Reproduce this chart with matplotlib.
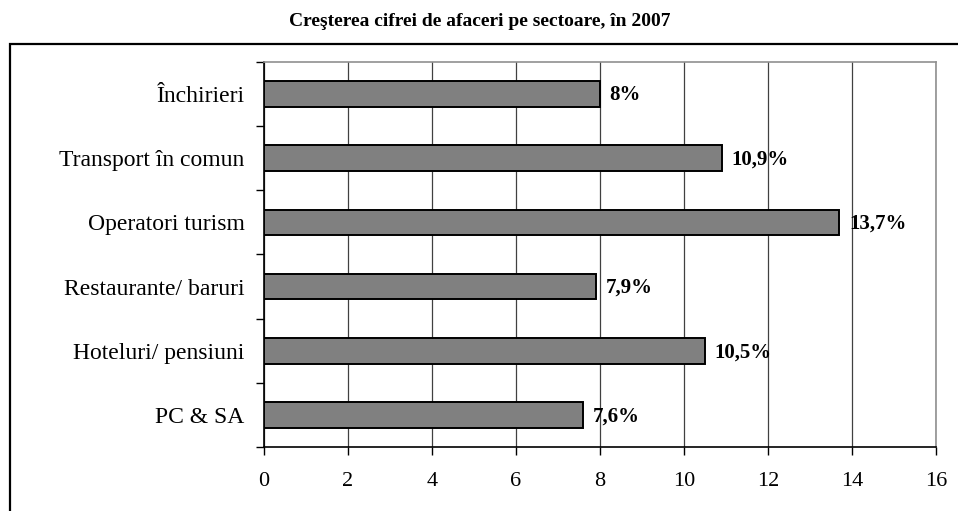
import matplotlib.pyplot as plt
from matplotlib.patches import Rectangle

categories = ["PC & SA", "Hoteluri/ pensiuni", "Restaurante/ baruri",
              "Operatori turism", "Transport în comun", "Închirieri"]
values = [7.6, 10.5, 7.9, 13.7, 10.9, 8.0]
value_labels = ["7,6%", "10,5%", "7,9%", "13,7%", "10,9%", "8%"]
x_ticks = [0, 2, 4, 6, 8, 10, 12, 14, 16]
title = "Creşterea cifrei de afaceri pe sectoare, în 2007"

plt.rcParams['font.family'] = ['Liberation Serif', 'DejaVu Serif']

W, H = 958, 511
fig = plt.figure(figsize=(W / 100, H / 100), dpi=100)
ax = fig.add_axes([264 / W, 1 - 447 / H, (936 - 264) / W, (447 - 62) / H])

# outer chart-area border
fig.patches.append(Rectangle((10 / W, -0.05), 1.1, 1 - 44 / H + 0.05,
                             transform=fig.transFigure, fill=False,
                             edgecolor='black', linewidth=1.6))

y = list(range(len(categories)))
ax.barh(y, values, height=0.4, color='#808080', edgecolor='black',
        linewidth=1.4, zorder=3)

for yi, v, lab in zip(y, values, value_labels):
    ax.annotate(lab, (v, yi), xytext=(7, -1), textcoords='offset points',
                ha='left', va='center', fontsize=15, fontweight='bold')

ax.set_xlim(0, 16)
ax.set_ylim(-0.5, len(categories) - 0.5)
ax.set_xticks(x_ticks)
ax.set_xticklabels([str(t) for t in x_ticks], fontsize=16)
ax.set_yticks(y)
ax.set_yticklabels(categories, fontsize=17)
ax.set_yticks([i - 0.5 for i in range(len(categories) + 1)], minor=True)
ax.tick_params(axis='y', which='major', length=0, pad=14)
ax.tick_params(axis='y', which='minor', length=6, width=1, direction='out')
ax.tick_params(axis='x', length=6, width=1, direction='out', pad=12)

ax.grid(axis='x', color='#404040', linewidth=0.9, zorder=0)
for s in ['left', 'bottom']:
    ax.spines[s].set_color('black')
    ax.spines[s].set_linewidth(1.2)
for s in ['top', 'right']:
    ax.spines[s].set_color('#909090')
    ax.spines[s].set_linewidth(1.2)

fig.text(480 / W, 1 - 22 / H, title, ha='center', va='center',
         fontsize=14, fontweight='bold')

fig.savefig("out.png", dpi=100)
